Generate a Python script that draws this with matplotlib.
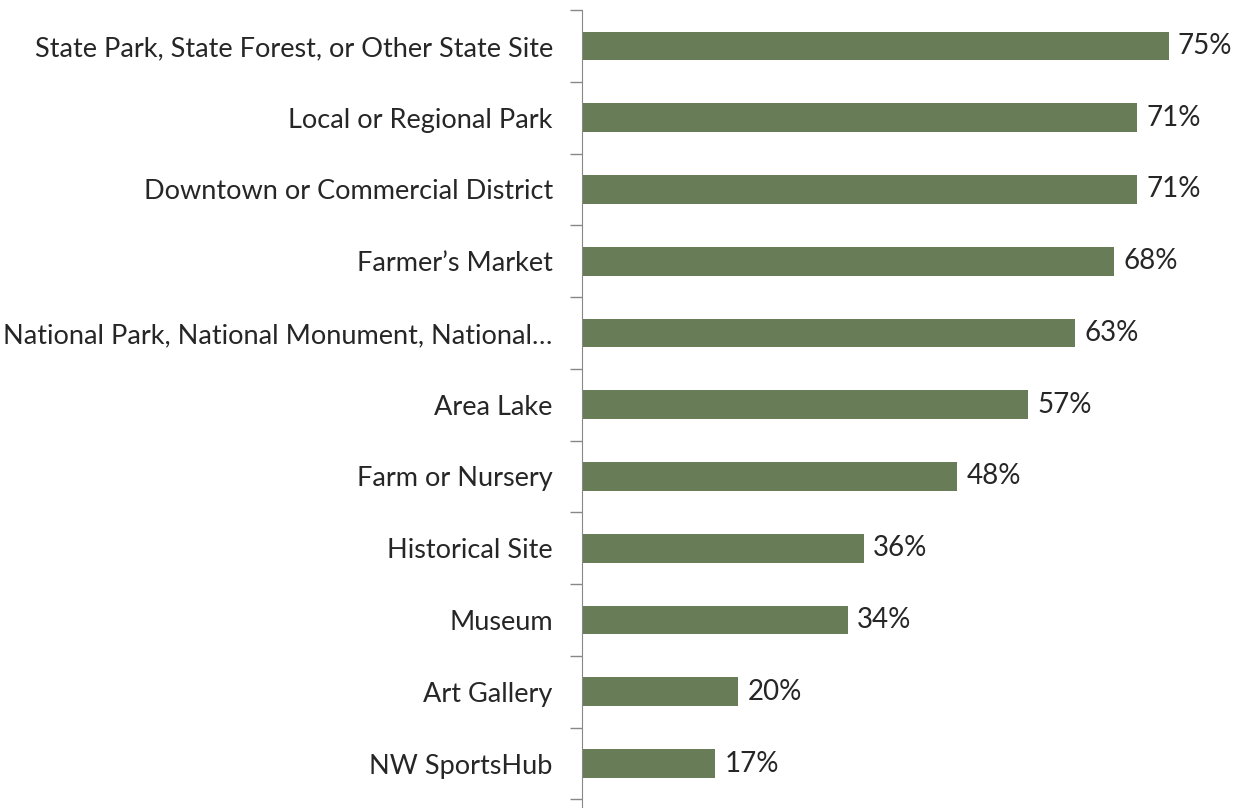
import matplotlib
matplotlib.use("Agg")
import matplotlib.pyplot as plt
import numpy as np

categories = [
    "State Park, State Forest, or Other State Site",
    "Local or Regional Park",
    "Downtown or Commercial District",
    "Farmer\u2019s Market",
    "National Park, National Monument, National\u2026",
    "Area Lake",
    "Farm or Nursery",
    "Historical Site",
    "Museum",
    "Art Gallery",
    "NW SportsHub",
]
values = [75, 71, 71, 68, 63, 57, 48, 36, 34, 20, 17]

plt.rcParams["font.family"] = ["Lato", "DejaVu Sans"]

fig = plt.figure(figsize=(12.39, 8.08), dpi=100)
ax = fig.add_axes([582 / 1239, 0.0, 1 - 582 / 1239, 1 - 10 / 808])

n = len(categories)
y = np.arange(n)
ax.barh(y, values, height=0.4, color="#687c58")
ax.set_ylim(n - 0.5 + 0.12, -0.5)
ax.set_xlim(0, 84)

for yi, v in zip(y, values):
    ax.text(v + 1.2, yi, f"{v}%", va="center", ha="left", fontsize=20, color="#262626")

ax.set_yticks(y)
ax.set_yticklabels(categories, fontsize=19.5, color="#262626")
ax.tick_params(axis="y", which="major", length=0, pad=21)
ax.set_yticks(np.arange(-0.5, n, 1.0), minor=True)
ax.tick_params(axis="y", which="minor", length=9, color="#888888", width=1)
ax.set_xticks([])

for s in ["top", "right", "bottom"]:
    ax.spines[s].set_visible(False)
ax.spines["left"].set_color("#888888")

fig.savefig("out.png", dpi=100)
